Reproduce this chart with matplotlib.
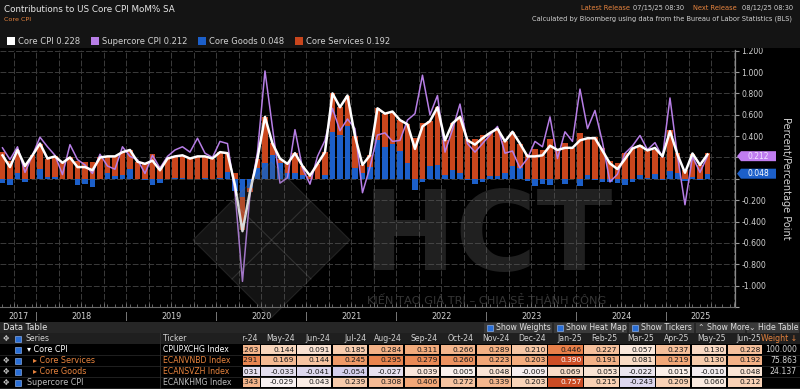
import matplotlib
matplotlib.use("Agg")
import matplotlib.pyplot as plt
from matplotlib.patches import Rectangle, Polygon
from matplotlib.transforms import blended_transform_factory
from matplotlib.colors import LinearSegmentedColormap
import numpy as np

# contributions to core CPI, % MoM SA, Aug-2017 .. Mar-2024
core_hist = [
    0.22, 0.11, 0.27, 0.12, 0.22,
    0.33, 0.19, 0.21, 0.15, 0.20, 0.11, 0.11, 0.08, 0.20, 0.21, 0.21, 0.25,
    0.27, 0.16, 0.14, 0.17, 0.08, 0.19, 0.21, 0.22, 0.19, 0.21, 0.21, 0.19,
    0.25, 0.24, -0.06, -0.49, -0.12, 0.19, 0.58, 0.33, 0.19, 0.14, 0.24, 0.12,
    0.03, 0.14, 0.25, 0.80, 0.67, 0.78, 0.40, 0.13, 0.22, 0.66, 0.61, 0.63,
    0.55, 0.51, 0.28, 0.49, 0.54, 0.67, 0.36, 0.52, 0.58, 0.36, 0.32, 0.38,
    0.43, 0.47, 0.35, 0.44, 0.33, 0.21, 0.21, 0.22, 0.31, 0.27, 0.29, 0.29,
    0.36, 0.38, 0.38,
]
goods_hist = [
    -0.04, -0.06, 0.05, -0.03, 0.00,
    0.09, 0.02, 0.02, 0.00, 0.00, -0.06, -0.05, -0.08, 0.00, 0.05, 0.03, 0.04,
    0.09, 0.00, -0.01, -0.06, -0.04, 0.00, 0.01, 0.01, 0.00, 0.00, 0.01, 0.00,
    0.01, 0.06, -0.11, -0.17, -0.09, 0.10, 0.15, 0.22, 0.15, 0.05, 0.05, 0.04,
    0.00, 0.00, 0.04, 0.44, 0.41, 0.49, 0.10, 0.05, 0.11, 0.36, 0.30, 0.33,
    0.26, 0.15, -0.10, -0.03, 0.12, 0.13, 0.04, 0.08, 0.05, -0.01, -0.05, -0.03,
    0.03, 0.03, 0.05, 0.12, 0.10, -0.02, -0.07, -0.05, -0.06, 0.00, -0.05, 0.00,
    -0.07, 0.04, -0.01,
]
services_hist = [
    0.25, 0.17, 0.22, 0.15, 0.22,
    0.24, 0.17, 0.19, 0.15, 0.20, 0.17, 0.16, 0.16, 0.20, 0.16, 0.18, 0.21,
    0.18, 0.16, 0.15, 0.23, 0.12, 0.19, 0.20, 0.21, 0.19, 0.21, 0.20, 0.19,
    0.24, 0.18, 0.05, -0.31, -0.03, 0.09, 0.43, 0.12, 0.04, 0.09, 0.19, 0.08,
    0.03, 0.14, 0.21, 0.36, 0.26, 0.29, 0.30, 0.08, 0.11, 0.30, 0.31, 0.30,
    0.29, 0.36, 0.38, 0.52, 0.42, 0.54, 0.32, 0.44, 0.53, 0.37, 0.37, 0.41,
    0.40, 0.44, 0.30, 0.32, 0.23, 0.23, 0.28, 0.27, 0.37, 0.27, 0.34, 0.29,
    0.43, 0.34, 0.39,
]
supercore_hist = [
    0.29, 0.18, 0.30, 0.06, 0.22,
    0.39, 0.30, 0.22, 0.04, 0.32, 0.18, 0.13, 0.05, 0.23, 0.12, 0.09, 0.30,
    0.21, 0.18, 0.05, 0.22, 0.10, 0.21, 0.27, 0.30, 0.25, 0.38, 0.24, 0.20,
    0.35, 0.33, -0.12, -0.96, -0.15, 0.25, 1.01, 0.48, -0.04, 0.01, 0.46, 0.10,
    -0.05, 0.21, 0.36, 0.66, 0.45, 0.56, 0.47, -0.13, 0.11, 0.41, 0.43, 0.35,
    0.36, 0.55, 0.61, 0.97, 0.60, 0.78, 0.25, 0.46, 0.70, 0.33, 0.25, 0.33,
    0.41, 0.49, 0.24, 0.26, 0.10, 0.19, 0.35, 0.30, 0.58, 0.19, 0.44, 0.35,
    0.84, 0.47, 0.64,
]

# data table, Apr-24 .. Jun-25
table_months = ["Apr-24", "May-24", "Jun-24", "Jul-24", "Aug-24", "Sep-24", "Oct-24",
                "Nov-24", "Dec-24", "Jan-25", "Feb-25", "Mar-25", "Apr-25", "May-25",
                "Jun-25"]
core_tbl = [0.263, 0.144, 0.091, 0.185, 0.284, 0.311, 0.266, 0.289, 0.210, 0.446,
            0.227, 0.057, 0.237, 0.130, 0.228]
services_tbl = [0.291, 0.169, 0.144, 0.245, 0.295, 0.279, 0.260, 0.223, 0.203, 0.390,
                0.191, 0.081, 0.219, 0.130, 0.192]
goods_tbl = [-0.031, -0.033, -0.041, -0.054, -0.027, 0.039, 0.005, 0.048, -0.009,
             0.069, 0.053, -0.022, 0.015, -0.010, 0.048]
supercore_tbl = [0.343, -0.029, 0.043, 0.239, 0.308, 0.406, 0.272, 0.339, 0.203,
                 0.757, 0.215, -0.243, 0.209, 0.060, 0.212]
series_names = ["Core CPI", "Core Services", "Core Goods", "Supercore CPI"]
tickers = ["CPUPXCHG Index", "ECANVNBD Index", "ECANSVZH Index", "ECANKHMG Index"]
weights = ["100.000", "75.863", "24.137", ""]
years = list(range(2017, 2026))

core = np.array(core_hist + core_tbl)
goods = np.array(goods_hist + goods_tbl)
services = np.array(services_hist + services_tbl)
supercore = np.array(supercore_hist + supercore_tbl)
months = np.arange(len(core)) - 5          # 0 = Jan 2018

WHITE, PURPLE, BLUE, ORANGE = "#ffffff", "#b77ee6", "#1c5fc9", "#c9461d"
GRID, TXT, ORG_TXT = "#3b3b3b", "#d2d2d2", "#e8843e"

W, H = 800, 389
fig = plt.figure(figsize=(W / 100, H / 100), dpi=100, facecolor="#000000")


def box(x0, y0, x1, y1):
    return [x0 / W, 1 - y1 / H, (x1 - x0) / W, (y1 - y0) / H]


# ---------------- chart
ax = fig.add_axes(box(0, 50, 735, 307))
ax.set_facecolor("#000000")
ax.set_xlim(-5.33, 92.67)
ax.set_ylim(-1.196, 1.206)

bw = 0.68
ax.bar(months, goods, width=bw, color=BLUE, linewidth=0, zorder=2)
s_bottom = np.where(np.sign(services) == np.sign(goods), goods, 0.0)
ax.bar(months, services, bottom=s_bottom, width=bw, color=ORANGE, linewidth=0, zorder=2)
ax.plot(months, supercore, color=PURPLE, lw=1.1, zorder=3)
ax.plot(months, core, color=WHITE, lw=1.8, zorder=4)

# the 0.200 / 0.000 labels are hidden under the last-value tags
yt = np.round(np.arange(-1.2, 1.21, 0.2), 3)
ax.set_yticks(yt)
ax.set_yticklabels([f"{v:.3f}" if v > -1.1 and v not in (0.0, 0.2) else ""
                    for v in yt])
ax.yaxis.tick_right()
ax.tick_params(axis="y", colors="#9a9a9a", labelcolor=TXT, labelsize=5.6, length=3,
               width=0.8, pad=1.5, direction="out")
ax.set_xticks(np.arange(-3.5, 93, 3))
ax.set_xticklabels([])
ax.set_xticks(np.arange(-5, 93, 1), minor=True)
ax.tick_params(axis="x", which="both", colors="#777777", direction="in", length=2,
               width=0.6)
ax.tick_params(axis="x", which="major", length=3)
ax.grid(True, color=GRID, lw=0.7, ls=(0, (6, 2)), zorder=1)
for s in ["top", "left"]:
    ax.spines[s].set_visible(False)
ax.spines["right"].set_color("#8a8a8a")
ax.spines["bottom"].set_color("#6a6a6a")
ax.spines["right"].set_linewidth(0.9)
ax.yaxis.set_label_position("right")
ax.set_ylabel("Percent/Percentage Point", color=TXT, fontsize=7, rotation=270,
              va="center")
ax.yaxis.set_label_coords(1.069, 0.5)

bt = blended_transform_factory(ax.transData, ax.transAxes)
lo, hi = ax.get_xlim()
for yr in years:
    a = max(12 * (yr - 2018) - 0.5, lo)
    b = min(12 * (yr - 2018) + 11.5, hi)
    ax.text((a + b) / 2, -0.038, str(yr), transform=bt, ha="center", va="center",
            color=TXT, fontsize=5.8, clip_on=False)
    if yr > 2017:
        ax.text(a, -0.038, "|", transform=bt, ha="center", va="center",
                color="#9a9a9a", fontsize=6, clip_on=False)

# ---------------- overlay in pixel coordinates
ov = fig.add_axes([0, 0, 1, 1])
ov.set_xlim(0, W)
ov.set_ylim(H, 0)
ov.axis("off")
ov.patch.set_alpha(0)

# watermark
ov.add_patch(Polygon([[193, 240], [271, 162], [350, 240], [271, 318]], closed=True,
                     fc="#5a5a5a", ec="#777777", lw=0.8, alpha=0.22, zorder=5))
ov.plot([232, 311], [201, 279], color="#888888", lw=0.8, alpha=0.25, zorder=5)
ov.plot([232, 311], [279, 201], color="#888888", lw=0.8, alpha=0.25, zorder=5)
ov.text(488, 240, "HCT", ha="center", va="center", fontsize=80, fontweight="bold",
        color="#5a5a5a", alpha=0.36, zorder=5)
ov.text(487, 299, "KIẾN TẠO GIÁ TRỊ – CHIA SẺ THÀNH CÔNG", ha="center", va="center",
        fontsize=8.2, color="#5a5a5a", alpha=0.6, zorder=5)

# header
ov.add_patch(Rectangle((0, 0), W, 48, fc="#141414", ec="none", zorder=1))
ov.text(4, 9, "Contributions to US Core CPI MoM% SA", color="#e8e8e8", fontsize=6.3,
        va="center", zorder=6)
ov.text(4, 19, "Core CPI", color=ORG_TXT, fontsize=4.6, va="center", zorder=6)
ov.text(581, 8, "Latest Release", color=ORG_TXT, fontsize=4.8, va="center", zorder=6)
ov.text(633, 8, "07/15/25 08:30", color=TXT, fontsize=4.8, va="center", zorder=6)
ov.text(693, 8, "Next Release", color=ORG_TXT, fontsize=4.8, va="center", zorder=6)
ov.text(742, 8, "08/12/25 08:30", color=TXT, fontsize=4.8, va="center", zorder=6)
ov.text(792, 19, "Calculated by Bloomberg using data from the Bureau of Labor Statistics (BLS)",
        color=TXT, fontsize=4.75, ha="right", va="center", zorder=6)

legend_items = [
    (7, "Core CPI", core[-1], WHITE),
    (91, "Supercore CPI", supercore[-1], PURPLE),
    (198, "Core Goods", goods[-1], BLUE),
    (295, "Core Services", services[-1], ORANGE),
]
for x0, name, val, col in legend_items:
    ov.add_patch(Rectangle((x0, 37), 8, 8, fc=col, ec="none", zorder=6))
    ov.text(x0 + 11, 41.5, f"{name} {val:.3f}", color=TXT, fontsize=6.0,
            va="center", zorder=6)

# last-value tags on the right axis
for val, col, tcol in [(supercore[-1], "#c07df0", "#f2e6ff"), (goods[-1], BLUE, "#ffffff")]:
    yp = H - ax.transData.transform((0, val))[1]
    ov.add_patch(Polygon([[737, yp], [741, yp - 5], [776, yp - 5], [776, yp + 5],
                          [741, yp + 5]], closed=True, fc=col, ec="none", zorder=7))
    ov.text(758, yp + 0.3, f"{val:.3f}", color=tcol, fontsize=5.5, ha="center",
            va="center", zorder=8)

# ---------------- data table
ov.add_patch(Rectangle((0, 322), W, 11, fc="#262626", ec="none", zorder=1))
ov.text(3, 327.5, "Data Table", color="#e8e8e8", fontsize=6.0, va="center", zorder=6)
buttons = [(484, 552, "Show Weights", True), (554, 627, "Show Heat Map", True),
           (629, 694, "Show Tickers", True), (696, 745, "Show More", False),
           (747, 799, "Hide Table", False)]
for x0, x1, lab, chk in buttons:
    ov.add_patch(Rectangle((x0, 323), x1 - x0, 10, fc="#3a3a3a", ec="none", zorder=2))
    if chk:
        ov.add_patch(Rectangle((x0 + 3, 325), 6, 6, fc="#2a6fd6", ec="#9fc3ff", lw=0.4,
                               zorder=3))
        ov.text(x0 + 12, 328, lab, color="#e0e0e0", fontsize=5.6, va="center", zorder=6)
    else:
        ov.text(x0 + 2, 328, ("⌃ " if lab == "Show More" else "⌄ ") + lab,
                color="#e0e0e0", fontsize=5.6, va="center", zorder=6)

ov.add_patch(Rectangle((0, 333), W, 11, fc="#1f1f1f", ec="none", zorder=1))
ov.text(3, 338.5, "✥", color="#cfcfcf", fontsize=5.5, va="center", zorder=6)
ov.add_patch(Rectangle((15, 335.5), 6, 6, fc="#2a6fd6", ec="#9fc3ff", lw=0.4, zorder=6))
ov.text(25, 338.5, "Series", color=TXT, fontsize=5.6, va="center", zorder=6)
ov.text(163, 338.5, "Ticker", color=TXT, fontsize=5.6, va="center", zorder=6)
ov.text(797, 338.5, "Weight ↓", color=ORG_TXT, fontsize=5.6, ha="right", va="center",
        zorder=6)
ov.plot([160, 160], [333, 388], color="#333333", lw=0.6, zorder=6)

name_cols = [WHITE, ORG_TXT, ORG_TXT, "#bdbdbd"]
prefix = ["▾ ", "▸ ", "▸ ", ""]
indent = [27, 33, 33, 27]
for r in range(4):
    yc = 349.5 + 11 * r
    ov.plot([0, W], [yc + 5.5, yc + 5.5], color="#262626", lw=0.6, zorder=2)
    if r > 0:
        ov.text(3, yc, "✥", color="#cfcfcf", fontsize=5.5, va="center", zorder=6)
    ov.add_patch(Rectangle((15, yc - 3), 6, 6, fc="#2a6fd6", ec="#9fc3ff", lw=0.4,
                           zorder=6))
    ov.text(indent[r], yc, prefix[r] + series_names[r], color=name_cols[r],
            fontsize=5.8, va="center", zorder=6)
    ov.text(163, yc, tickers[r], color=name_cols[r] if r else WHITE, fontsize=5.6,
            va="center", zorder=6)
    ov.text(797, yc, weights[r], color=TXT, fontsize=5.6, ha="right", va="center",
            zorder=6)

# heat map shading: each row scaled by the full range of its series
heat = LinearSegmentedColormap.from_list(
    "heat", [(0.0, "#8c83c6"), (0.35, "#d6d1ed"), (0.5, "#fbf4f1"), (0.6, "#f8d3b8"),
             (0.7, "#f2a878"), (0.78, "#e8804a"), (0.86, "#cf4f26"), (1.0, "#9a2a12")])
rows = [core_tbl, services_tbl, goods_tbl, supercore_tbl]
full = [core, services, goods, supercore]
ht = fig.add_axes(box(243, 333, 763, 388))
ht.set_xlim(0.015, 14.5)
ht.set_ylim(3.5, -1.5)
ht.axis("off")
for k, mlab in enumerate(table_months):
    ht.text(k + 0.45, -1, mlab, color=TXT, fontsize=5.6, ha="right", va="center",
            clip_on=True)
for r, vals in enumerate(rows):
    pos_max, neg_max = full[r].max(), -full[r].min()
    for k, v in enumerate(vals):
        t = 0.5 + 0.5 * (v / pos_max if v >= 0 else v / neg_max)
        ht.add_patch(Rectangle((k - 0.48, r - 0.45), 0.96, 0.9, fc=heat(t), ec="none"))
        ht.text(k + 0.44, r, f"{v:.3f}", color="#ffffff" if t > 0.84 else "#1a1a1a",
                fontsize=5.4, ha="right", va="center", clip_on=True)

fig.savefig("out.png", dpi=100, facecolor=fig.get_facecolor())
